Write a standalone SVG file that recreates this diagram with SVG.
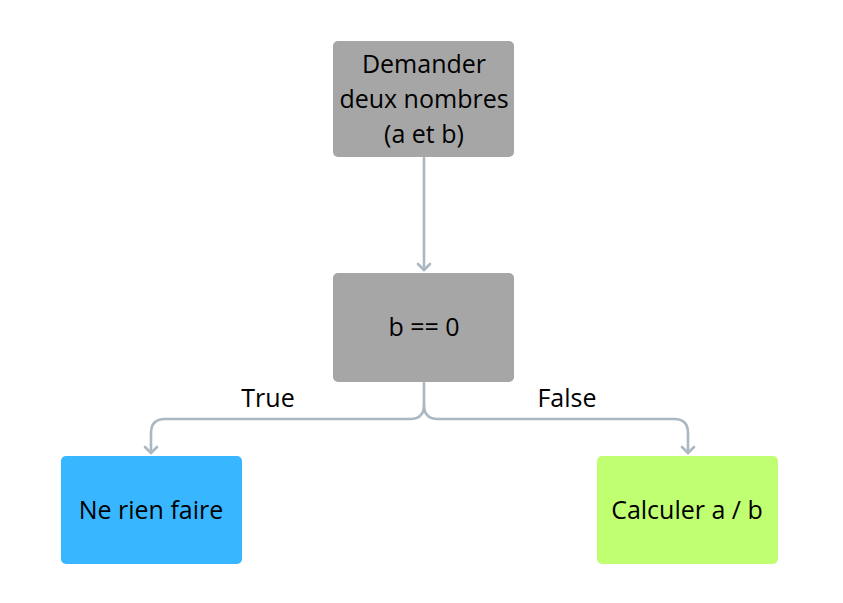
<svg xmlns="http://www.w3.org/2000/svg" width="843" height="603" viewBox="0 0 843 603">
<defs>
<style>
.node{stroke:none}
.lbl{font-family:"Open Sans","Noto Sans",sans-serif;font-size:25px;fill:#000;text-anchor:middle}
.edge{fill:none;stroke:#abb7c1;stroke-width:2.6;stroke-linecap:round;stroke-linejoin:round}
</style>
</defs>
<rect width="843" height="603" fill="#ffffff"/>
<g id="connectors">
<path class="edge" d="M424,158 L424,270"/>
<path class="edge" d="M418,264 L424,270 L430,264"/>
<path class="edge" d="M424,383 L424,405 Q424,419 410,419 L165,419 Q151,419 151,433 L151,453"/>
<path class="edge" d="M145,447 L151,453 L157,447"/>
<path class="edge" d="M424,405 Q424,419 438,419 L674,419 Q688,419 688,433 L688,453"/>
<path class="edge" d="M682,447 L688,453 L694,447"/>
<text class="lbl" x="268" y="407">True</text>
<text class="lbl" x="567" y="407">False</text>
</g>
<g id="node-demander">
<rect class="node" x="333" y="41" width="181" height="116" rx="5" fill="#a6a6a6"/>
<text class="lbl" x="424" y="73">Demander</text>
<text class="lbl" x="424" y="108">deux nombres</text>
<text class="lbl" x="424" y="143">(a et b)</text>
</g>
<g id="node-test">
<rect class="node" x="333" y="273" width="181" height="109" rx="5" fill="#a6a6a6"/>
<text class="lbl" x="424" y="336">b == 0</text>
</g>
<g id="node-rien">
<rect class="node" x="61" y="456" width="181" height="108" rx="5" fill="#38b6ff"/>
<text class="lbl" x="151" y="519">Ne rien faire</text>
</g>
<g id="node-calcul">
<rect class="node" x="597" y="456" width="181" height="108" rx="5" fill="#c1ff72"/>
<text class="lbl" x="687" y="519">Calculer a / b</text>
</g>
</svg>
